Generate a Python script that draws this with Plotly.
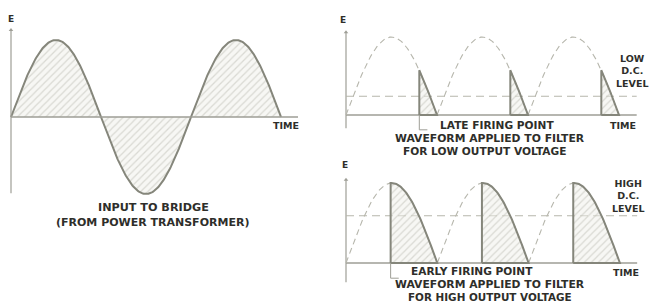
import numpy as np
import plotly.graph_objects as go

W, H = 654, 303

# ---- data (phase in electrical degrees, voltage relative to peak) ----
input_phase_end = 540            # 1.5 cycles of transformer voltage
time_axis_end = [574, 575, 574]  # extent of TIME axes (deg) per panel
arc_starts = [0, 180, 360]       # rectified half-cycles
late_firing_deg = 145
early_firing_deg = 88
low_dc_level = 0.24
high_dc_level = 0.59
e_axis_top = [1.13, 1.06, 1.04]
e_axis_bottom = [-0.99, -0.17, -0.24]

label_left = ["INPUT TO BRIDGE", "(FROM POWER TRANSFORMER)"]
label_low = ["LATE FIRING POINT", "WAVEFORM APPLIED TO FILTER", "FOR LOW OUTPUT VOLTAGE", "LOW<br>D.C.<br>LEVEL"]
label_high = ["EARLY FIRING POINT", "WAVEFORM APPLIED TO FILTER", "FOR HIGH OUTPUT VOLTAGE", "HIGH<br>D.C.<br>LEVEL"]

CURVE = "#85867b"
AXIS = "#9e9e96"
DASH = "#b6b6ac"
TEXT = "#2e2e2a"
PATTERN = dict(shape="/", fgcolor="#bcbcb3", bgcolor="rgba(240,240,234,0.5)", size=5, solidity=0.25)

fig = go.Figure()


def xdom(p0, p1):
    return [p0 / W, p1 / W]


def ydom(top, bot):
    return [1 - bot / H, 1 - top / H]


# panel boxes (pixel) and mapping deg/E <-> pixels
panels = [
    dict(box=(0, 310, 0, 240), x0=11, dpp=2.0, y0=117, amp=77),
    dict(box=(336, 654, 0, 150), x0=346, dpp=180 / 91, y0=115, amp=78),
    dict(box=(336, 654, 150, 303), x0=346, dpp=180 / 91.3, y0=263, amp=80),
]
for i, p in enumerate(panels):
    bx0, bx1, by0, by1 = p["box"]
    xr = [(bx0 - p["x0"]) * p["dpp"], (bx1 - p["x0"]) * p["dpp"]]
    yr = [(p["y0"] - by1) / p["amp"], (p["y0"] - by0) / p["amp"]]
    sfx = "" if i == 0 else str(i + 1)
    fig.update_layout(**{
        "xaxis" + sfx: dict(domain=xdom(bx0, bx1), range=xr, visible=False, anchor="y" + sfx, fixedrange=True),
        "yaxis" + sfx: dict(domain=ydom(by0, by1), range=yr, visible=False, anchor="x" + sfx, fixedrange=True),
    })


def ax(i):
    return dict(xaxis="x" if i == 0 else f"x{i+1}", yaxis="y" if i == 0 else f"y{i+1}")


def add_axes(i):
    fig.add_trace(go.Scatter(x=[0, time_axis_end[i]], y=[0, 0], mode="lines",
                             line=dict(color=AXIS, width=1.3), hoverinfo="skip", showlegend=False, **ax(i)))
    fig.add_trace(go.Scatter(x=[0, 0], y=[e_axis_bottom[i], e_axis_top[i]], mode="lines",
                             line=dict(color=AXIS, width=1.2), hoverinfo="skip", showlegend=False, **ax(i)))
    fig.add_trace(go.Scatter(x=[0], y=[e_axis_top[i]], mode="markers",
                             marker=dict(symbol="triangle-up", size=4, color=AXIS), hoverinfo="skip",
                             showlegend=False, **ax(i)))


# ---- left panel: full sine ----
th = np.linspace(0, input_phase_end, 400)
fig.add_trace(go.Scatter(x=th, y=np.sin(np.radians(th)), mode="lines", fill="tozeroy",
                         fillpattern=PATTERN, fillcolor="rgba(0,0,0,0)",
                         line=dict(color=CURVE, width=2), hoverinfo="skip", showlegend=False, **ax(0)))
add_axes(0)


def rectified_panel(i, firing, dc):
    add_axes(i)
    # dashed full rectified wave
    xs, ys = [], []
    for a in arc_starts:
        t = np.linspace(0, 180, 80)
        xs += list(a + t) + [None]
        ys += list(np.sin(np.radians(t))) + [None]
    fig.add_trace(go.Scatter(x=xs, y=ys, mode="lines", line=dict(color=DASH, width=1.1, dash="6px,4px"),
                             hoverinfo="skip", showlegend=False, **ax(i)))
    # dc level
    fig.add_trace(go.Scatter(x=[0, time_axis_end[i]], y=[dc, dc], mode="lines",
                             line=dict(color=DASH, width=1.1, dash="8px,5px"),
                             hoverinfo="skip", showlegend=False, **ax(i)))
    # conducting portions
    for a in arc_starts:
        t = np.linspace(firing, 180, 60)
        x = [a + firing] + list(a + t) + [a + firing]
        y = [0] + list(np.sin(np.radians(t))) + [0]
        fig.add_trace(go.Scatter(x=x, y=y, mode="lines", fill="toself", fillpattern=PATTERN,
                                 fillcolor="rgba(0,0,0,0)",
                                 line=dict(color=CURVE, width=2), hoverinfo="skip", showlegend=False, **ax(i)))
    # leader to firing label
    fig.add_trace(go.Scatter(x=[firing, firing, firing + 16], y=[0, -0.19, -0.19], mode="lines",
                             line=dict(color=AXIS, width=1), hoverinfo="skip", showlegend=False, **ax(i)))


rectified_panel(1, late_firing_deg, low_dc_level)
rectified_panel(2, early_firing_deg, high_dc_level)

FONT = dict(family="DejaVu Sans", size=10, color=TEXT, weight="bold")


def txt(s, px, py, size=10, align="center"):
    f = dict(FONT)
    f["size"] = size
    fig.add_annotation(text=s, x=px / W, y=1 - py / H, xref="paper", yref="paper", showarrow=False,
                       font=f, align=align, xanchor="center", yanchor="middle")


txt("E", 11, 19, 9)
txt("TIME", 286, 126, 9.5)
txt(label_left[0], 153, 207, 11.2)
txt(label_left[1], 152, 222, 11)

txt("E", 343, 20, 9)
txt(label_low[0], 497, 125, 10.6)
txt("TIME", 623, 126, 9.5)
txt(label_low[1], 490, 138, 10.8)
txt(label_low[2], 485, 151, 10.6)
txt(label_low[3], 632, 71, 9.5)

txt("E", 345, 165, 9)
txt(label_high[0], 472, 271, 10.6)
txt("TIME", 626, 272, 9.5)
txt(label_high[1], 490, 284, 10.8)
txt(label_high[2], 490, 296.5, 10.4)
txt(label_high[3], 628, 196, 9.5)

fig.update_layout(width=W, height=H, margin=dict(l=0, r=0, t=0, b=0),
                  paper_bgcolor="white", plot_bgcolor="rgba(0,0,0,0)", showlegend=False)
fig.write_html("out.html", config={"displayModeBar": False, "staticPlot": True},
               post_script="document.body.style.margin='0px';document.body.style.overflow='hidden';")
